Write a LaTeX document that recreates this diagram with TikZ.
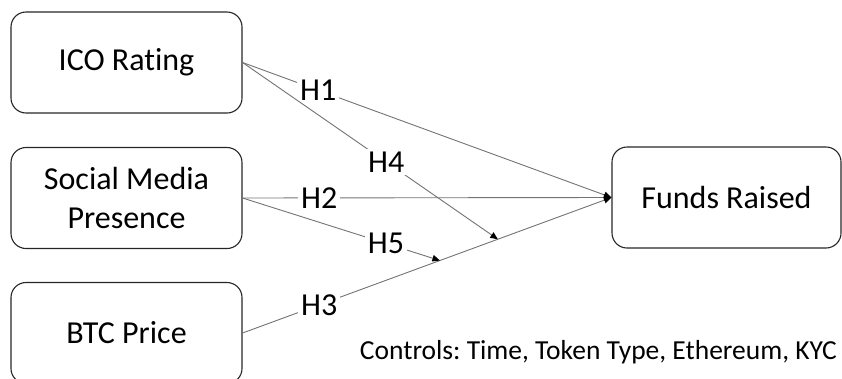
\documentclass[tikz,border=0pt]{standalone}
\usepackage{fontspec}
\setmainfont{Carlito}[Ligatures={NoCommon}]
\usetikzlibrary{arrows.meta}
\frenchspacing
\tikzset{
  varbox/.style={draw=black!85, line width=1.1pt, rounded corners=15pt,
    minimum width=231pt, minimum height=101pt, align=center,
    font=\fontsize{32}{38.5}\selectfont, inner sep=0pt},
  link/.style={draw=black!55, line width=0.9pt,
    -{Triangle[length=7.5pt,width=6.5pt,color=black]}},
  hlab/.style={fill=white, inner sep=3pt, font=\fontsize{32}{38}\selectfont},
  ctrl/.style={font=\fontsize{27.5}{33}\selectfont, inner sep=0pt}
}
\begin{document}
\begin{tikzpicture}[x=1pt,y=-1pt]
\useasboundingbox (0,0) rectangle (842,378);
\node[varbox] (ico) at (126.5,62.5) {ICO Rating};
\node[varbox] (smp) at (126.5,198) {Social Media\\Presence};
\node[varbox] (btc) at (126.5,333) {BTC Price};
\node[varbox, minimum width=229pt] (funds) at (726.5,197.5) {Funds Raised};
\path (btc.east) -- (funds.west) coordinate[pos=0.692] (m4) coordinate[pos=0.535] (m5);
\draw[link] (ico.east) -- node[hlab, pos=0.205] (h1) {H1} (funds.west);
\draw[link] (smp.east) -- node[hlab, pos=0.208] (h2) {H2} (funds.west);
\draw[link] (btc.east) -- node[hlab, pos=0.208] (h3) {H3} (funds.west);
\draw[link] (ico.east) -- node[hlab, pos=0.5625] (h4) {H4} (m4);
\draw[link] (smp.east) -- node[hlab, pos=0.727] (h5) {H5} (m5);
\node[ctrl, anchor=base east] (controls) at (837,359) {Controls: Time, Token Type, Ethereum, KYC};
\end{tikzpicture}
\end{document}
